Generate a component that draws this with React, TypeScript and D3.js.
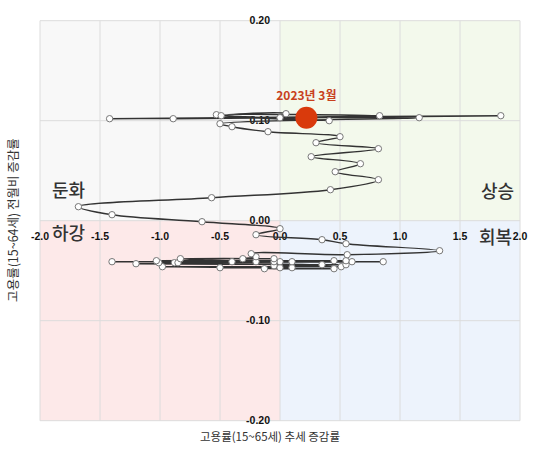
import React from "react";
import * as d3 from "d3";

// Series: trend change (x) vs month-on-month change (y), in time order, ending at 2023년 3월
const trendX = [0.45, -0.13, 0.10, -0.50, 0.00, -0.98, 0.51, -0.05, 0.55, -1.20, 0.35, -0.88, 0.86, -1.40, 0.60, -1.01, 0.10, -0.85, 0.00, -0.40, 0.45, -1.03, 0.55, -0.05, -0.20, -0.83, -0.05, -0.31, -0.20, -0.24, 0.56, 1.33, 0.55, 0.35, -0.20, 0.00, -0.65, -1.40, -1.68, -0.57, 0.42, 0.82, 0.46, 0.67, 0.26, 0.82, 0.30, 0.50, -0.10, -0.40, -0.50, 1.16, -1.42, 1.84, -0.89, 0.83, -0.53, 0.41, -0.49, 0.05, 0.00, 0.22];
const momY = [-0.048, -0.048, -0.047, -0.047, -0.047, -0.046, -0.046, -0.045, -0.044, -0.043, -0.044, -0.042, -0.041, -0.041, -0.041, -0.042, -0.041, -0.042, -0.041, -0.041, -0.040, -0.040, -0.040, -0.041, -0.041, -0.038, -0.038, -0.038, -0.036, -0.033, -0.034, -0.030, -0.023, -0.019, -0.014, -0.008, -0.001, 0.006, 0.014, 0.023, 0.031, 0.041, 0.049, 0.057, 0.064, 0.072, 0.078, 0.084, 0.089, 0.094, 0.097, 0.103, 0.102, 0.105, 0.102, 0.105, 0.106, 0.100, 0.105, 0.107, 0.103, 0.103];

const highlightLabel = "2023년 3월";
const xTicks = [-2.0, -1.5, -1.0, -0.5, 0.0, 0.5, 1.0, 1.5, 2.0];
const yTicks = [0.2, 0.1, 0.0, -0.1, -0.2];
const quadrantLabels = ["둔화", "상승", "하강", "회복"];
const xTitle = "고용률(15~65세) 추세 증감률";
const yTitle = "고용률(15~64세) 전월비 증감률";

export default function App() {
  const W = 533, H = 450;
  const x = d3.scaleLinear().domain([-2, 2]).range([40, 520]);
  const y = d3.scaleLinear().domain([-0.2, 0.2]).range([420.7, 20.7]);
  const pts: [number, number][] = trendX.map((v, i) => [v, momY[i]]);
  const line = d3
    .line<[number, number]>()
    .x((d) => x(d[0]))
    .y((d) => y(d[1]))
    .curve(d3.curveCatmullRom.alpha(0.5));
  const last = pts[pts.length - 1];
  const numFont = "'Liberation Sans', Arial, sans-serif";
  const krFont = "'Noto Sans CJK KR', 'Noto Sans', sans-serif";
  const gridColor = "#dcdcdc";

  return (
    <svg
      width={W}
      height={H}
      style={{ position: "absolute", left: 0, top: 0, background: "#fff" }}
    >
      {/* quadrants */}
      <rect x={x(-2)} y={y(0.2)} width={x(0) - x(-2)} height={y(0) - y(0.2)} fill="#f8f8f8" />
      <rect x={x(0)} y={y(0.2)} width={x(2) - x(0)} height={y(0) - y(0.2)} fill="#f3f9ec" />
      <rect x={x(-2)} y={y(0)} width={x(0) - x(-2)} height={y(-0.2) - y(0)} fill="#fde9e9" />
      <rect x={x(0)} y={y(0)} width={x(2) - x(0)} height={y(-0.2) - y(0)} fill="#edf3fc" />
      {/* grid */}
      {xTicks.map((t) => (
        <line key={"gx" + t} x1={x(t)} x2={x(t)} y1={y(0.2)} y2={y(-0.2)} stroke={gridColor} strokeWidth={1} />
      ))}
      {yTicks.map((t) => (
        <line key={"gy" + t} x1={x(-2)} x2={x(2)} y1={y(t)} y2={y(t)} stroke={gridColor} strokeWidth={1} />
      ))}
      {/* tick labels */}
      {yTicks.map((t) => (
        <text
          key={"ty" + t}
          x={x(0) - 10}
          y={y(t)}
          dy="0.35em"
          textAnchor="end"
          fontFamily={numFont}
          fontWeight="bold"
          fontSize={10.5}
          fill="#111"
        >
          {t.toFixed(2)}
        </text>
      ))}
      {xTicks.map((t) => (
        <text
          key={"tx" + t}
          x={x(t)}
          y={y(0) + 16}
          dy="0.35em"
          textAnchor="middle"
          fontFamily={numFont}
          fontWeight="bold"
          fontSize={10.5}
          fill="#111"
        >
          {t.toFixed(1)}
        </text>
      ))}
      {/* quadrant labels */}
      <text x={52} y={197} fontFamily={krFont} fontSize={18} fontWeight={500} fill="#333">{quadrantLabels[0]}</text>
      <text x={514} y={198} textAnchor="end" fontFamily={krFont} fontSize={18} fontWeight={500} fill="#333">{quadrantLabels[1]}</text>
      <text x={52} y={240} fontFamily={krFont} fontSize={18} fontWeight={500} fill="#333">{quadrantLabels[2]}</text>
      <text x={512} y={244} textAnchor="end" fontFamily={krFont} fontSize={18} fontWeight={500} fill="#333">{quadrantLabels[3]}</text>
      {/* series */}
      <path d={line(pts) || ""} fill="none" stroke="#333" strokeWidth={1.4} />
      {pts.slice(0, -1).map((d, i) => (
        <circle key={"p" + i} cx={x(d[0])} cy={y(d[1])} r={3.2} fill="#fff" stroke="#777" strokeWidth={1} />
      ))}
      <circle cx={x(last[0])} cy={y(last[1])} r={11} fill="#d93a0c" />
      <text
        x={x(last[0])}
        y={100}
        textAnchor="middle"
        fontFamily={krFont}
        fontWeight="bold"
        fontSize={12}
        fill="#c8401c"
      >
        {highlightLabel}
      </text>
      {/* axis titles */}
      <text x={270} y={441} textAnchor="middle" fontFamily={krFont} fontSize={11.5} fill="#333">
        {xTitle}
      </text>
      <text
        transform={`translate(18, 220) rotate(-90)`}
        textAnchor="middle"
        fontFamily={krFont}
        fontSize={12.5}
        fill="#333"
      >
        {yTitle}
      </text>
    </svg>
  );
}
